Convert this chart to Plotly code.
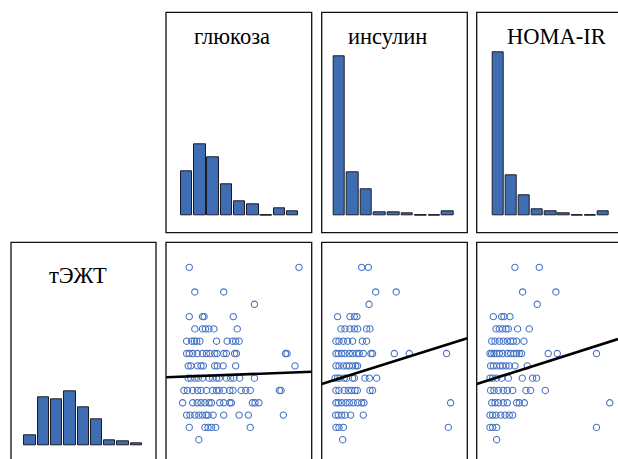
import plotly.graph_objects as go

# ---------------------------------------------------------------- data
# histogram counts (9 bins per variable)
tegt_counts = [8, 36, 35, 41, 29, 20, 4, 3, 2]
glucose_counts = [33, 53, 43, 23, 10, 8, 0, 5, 3]
insulin_counts = [119, 32, 19, 2, 2, 1, 0, 0, 3]
homa_counts = [122, 30, 15, 4, 3, 1, 0, 0, 3]

# bin start and bin width of each histogram
tegt_bins = (2.0, 7.0 / 9.0)
glucose_bins = (3.5, 0.5)
insulin_bins = (0.0, 10.0)
homa_bins = (0.5, 2.0)

# scatter points: тЭЖТ level -> values of the second variable
glucose_rows = {
    9.0: [3.85, 7.99],
    8.0: [4.06, 5.15],
    7.5: [6.31],
    7.0: [3.85, 4.35, 4.41, 5.51],
    6.5: [4.06, 4.35, 4.46, 4.59, 4.78, 5.66],
    6.0: [3.75, 3.94, 4.04, 4.13, 4.25, 4.88, 5.28, 5.48, 5.60, 5.73],
    5.5: [3.75, 3.85, 3.98, 4.15, 4.35, 4.50, 4.63, 4.81, 4.90, 5.15, 5.25, 5.56, 5.63, 7.48, 7.54],
    5.0: [3.81, 3.91, 4.16, 4.29, 4.38, 4.81, 4.91, 5.13, 5.60, 7.84],
    4.5: [3.81, 3.91, 4.06, 4.19, 4.35, 4.60, 4.73, 4.88, 4.98, 5.25, 5.41, 5.53, 5.75, 6.31],
    4.0: [3.65, 3.78, 3.98, 4.16, 4.29, 4.50, 4.73, 4.88, 4.98, 5.15, 5.38, 5.50, 5.81, 5.98, 6.15, 7.25, 7.31],
    3.5: [3.60, 3.98, 4.15, 4.29, 4.44, 4.60, 4.69, 5.00, 5.15, 5.38, 5.44, 6.23, 6.33, 6.48],
    3.0: [3.75, 3.88, 4.06, 4.21, 4.35, 4.48, 4.56, 4.75, 5.15, 5.73, 6.08, 7.40],
    2.5: [3.85, 4.44, 4.56, 4.69, 4.85, 6.15],
    2.0: [4.21],
}
insulin_rows = {
    9.0: [21.6, 26.5],
    8.0: [31.9, 47.0],
    7.5: [27.0],
    7.0: [3.9, 13.0, 16.2, 18.1],
    6.5: [6.4, 9.3, 13.0, 16.2, 18.6, 25.2, 27.7],
    6.0: [2.7, 4.9, 8.1, 11.3, 14.9, 22.1, 25.2],
    5.5: [2.7, 4.4, 6.9, 9.3, 12.5, 14.9, 17.9, 19.8, 22.8, 28.4, 29.6, 45.6, 56.6, 84.0],
    5.0: [2.7, 4.9, 8.1, 10.5, 12.5, 14.9, 17.2, 18.6],
    4.5: [2.0, 3.9, 5.6, 8.8, 10.5, 14.9, 16.2, 24.0, 27.2, 32.6],
    4.0: [2.7, 4.9, 8.8, 11.8, 14.2, 16.7, 18.4, 27.7, 29.6],
    3.5: [2.7, 4.4, 6.9, 10.0, 12.5, 15.4, 18.6, 21.6, 23.3, 87.0],
    3.0: [2.5, 4.4, 6.9, 9.3, 13.5, 22.8],
    2.5: [2.7, 4.9, 8.1, 85.3],
    2.0: [7.6],
}
homa_rows = {
    9.0: [4.09, 7.78],
    8.0: [5.25, 10.30],
    7.5: [7.47],
    7.0: [0.81, 2.07, 2.42, 3.33],
    6.5: [1.21, 1.72, 2.22, 2.73, 3.08, 4.49, 6.26],
    6.0: [0.56, 1.06, 1.72, 2.32, 2.93, 3.43, 3.84, 4.34, 5.45],
    5.5: [0.30, 0.56, 0.91, 1.31, 1.72, 2.22, 2.93, 3.43, 3.94, 4.34, 4.75, 5.10, 9.14, 10.51, 16.46],
    5.0: [0.40, 0.81, 1.31, 1.82, 2.22, 2.73, 3.23, 4.09, 5.96],
    4.5: [0.30, 0.71, 1.31, 2.07, 3.08, 5.20, 6.77, 7.37],
    4.0: [0.40, 0.91, 1.57, 2.32, 2.93, 3.74, 5.76, 6.46, 8.69],
    3.5: [0.56, 1.06, 1.57, 2.32, 2.93, 4.34, 4.75, 5.51, 18.48],
    3.0: [0.30, 0.71, 1.21, 1.92, 2.58, 3.23, 3.74],
    2.5: [0.30, 0.71, 1.31, 16.46],
    2.0: [1.31],
}

# linear fits тЭЖТ = intercept + slope * x
glucose_fit = (4.411, 0.0414)
insulin_fit = (4.397, 0.01735)
homa_fit = (4.408, 0.0852)

labels = {"tegt": "тЭЖТ", "glucose": "глюкоза", "insulin": "инсулин", "homa": "HOMA-IR"}

# ---------------------------------------------------------------- geometry
W, H = 618, 459
COLS = {"tegt": (11.0, 156.0), "glucose": (166.0, 311.7),
        "insulin": (321.7, 467.3), "homa": (476.7, 622.7)}
ROW_TOP = (12.3, 232.7)
ROW_BOTTOM = (242.3, 462.7)
# pixel of the first bin edge and pixel width of one bin
XCAL = {"tegt": (23.35, 13.3), "glucose": (180.0, 13.25),
        "insulin": (332.3, 13.6), "homa": (491.3, 13.18)}
BINS = {"tegt": tegt_bins, "glucose": glucose_bins,
        "insulin": insulin_bins, "homa": homa_bins}
BAR_FRAC = 0.855
HIST_BASE = {"top": 215.0, "bottom": 445.7}
PX_PER_COUNT = 1.333
TEGT_REF = (2.0, 439.7, 24.62)  # value, pixel, pixels per unit

BAR_FILL = "#3e6db4"
BAR_EDGE = "#1c1c24"
DOT = "#4673c4"


def x_axis(col):
    x0, x1 = COLS[col]
    e0, pitch = XCAL[col]
    b0, w = BINS[col]
    a, b = max(x0, 0), min(x1, W)
    f = lambda px: b0 + (px - e0) / pitch * w
    return dict(domain=[a / W, b / W], range=[f(a), f(b)])


def y_axis(row, f):
    a, b = max(row[0], 0), min(row[1], H)
    return dict(domain=[1 - b / H, 1 - a / H], range=[f(b), f(a)])


def hist_y(base):
    return lambda py: (base - py) / PX_PER_COUNT


def tegt_y(py):
    v0, p0, s = TEGT_REF
    return v0 + (p0 - py) / s


fig = go.Figure()
layout_axes = {}
hidden = dict(visible=False, showgrid=False, zeroline=False, fixedrange=True)

hist_panels = [
    ("tegt", tegt_counts, ROW_BOTTOM, "bottom", 1),
    ("glucose", glucose_counts, ROW_TOP, "top", 2),
    ("insulin", insulin_counts, ROW_TOP, "top", 3),
    ("homa", homa_counts, ROW_TOP, "top", 4),
]
for col, counts, row, base_key, n in hist_panels:
    sfx = "" if n == 1 else str(n)
    b0, w = BINS[col]
    centers = [b0 + w * (k + 0.5) for k in range(len(counts))]
    bw = w * BAR_FRAC
    fig.add_trace(go.Bar(
        x=centers, y=counts, width=bw,
        marker=dict(color=BAR_FILL, line=dict(color=BAR_EDGE, width=1)),
        xaxis="x" + sfx, yaxis="y" + sfx, hoverinfo="skip", showlegend=False))
    # empty bins keep their outline on the baseline
    zx, zy = [], []
    for c, cnt in zip(centers, counts):
        if cnt == 0:
            zx += [c - bw / 2, c + bw / 2, None]
            zy += [0, 0, None]
    if zx:
        fig.add_trace(go.Scatter(
            x=zx, y=zy, mode="lines", line=dict(color=BAR_EDGE, width=1),
            xaxis="x" + sfx, yaxis="y" + sfx, hoverinfo="skip", showlegend=False))
    layout_axes["xaxis" + sfx] = dict(x_axis(col), anchor="y" + sfx, **hidden)
    layout_axes["yaxis" + sfx] = dict(y_axis(row, hist_y(HIST_BASE[base_key])),
                                      anchor="x" + sfx, **hidden)

scatter_panels = [
    ("glucose", glucose_rows, glucose_fit, 5),
    ("insulin", insulin_rows, insulin_fit, 6),
    ("homa", homa_rows, homa_fit, 7),
]
for col, rows, fit, n in scatter_panels:
    sfx = str(n)
    xs, ys = [], []
    for level, vals in rows.items():
        xs += vals
        ys += [level] * len(vals)
    xa = x_axis(col)
    fig.add_trace(go.Scatter(
        x=xs, y=ys, mode="markers",
        marker=dict(symbol="circle-open", size=6.3, color=DOT, line=dict(width=1.1)),
        xaxis="x" + sfx, yaxis="y" + sfx, hoverinfo="skip", showlegend=False))
    a, slope = fit
    lx = list(xa["range"])
    fig.add_trace(go.Scatter(
        x=lx, y=[a + slope * v for v in lx], mode="lines",
        line=dict(color="black", width=2.6),
        xaxis="x" + sfx, yaxis="y" + sfx, hoverinfo="skip", showlegend=False))
    layout_axes["xaxis" + sfx] = dict(xa, anchor="y" + sfx, **hidden)
    layout_axes["yaxis" + sfx] = dict(y_axis(ROW_BOTTOM, tegt_y), anchor="x" + sfx, **hidden)

# panel frames
shapes = []
frames = [("tegt", ROW_BOTTOM), ("glucose", ROW_TOP), ("insulin", ROW_TOP), ("homa", ROW_TOP),
          ("glucose", ROW_BOTTOM), ("insulin", ROW_BOTTOM), ("homa", ROW_BOTTOM)]
for col, row in frames:
    x0, x1 = COLS[col]
    shapes.append(dict(type="rect", xref="paper", yref="paper",
                       x0=x0 / W, x1=x1 / W, y0=1 - row[1] / H, y1=1 - row[0] / H,
                       line=dict(color="#111111", width=1.3), layer="above"))

# variable names on the diagonal
title_pos = {"glucose": (231.7, 37.0), "insulin": (387.8, 37.0),
             "homa": (556.3, 37.0), "tegt": (78.0, 275.3)}
annotations = []
for key, (px, py) in title_pos.items():
    annotations.append(dict(text=labels[key], x=px / W, y=1 - py / H,
                            xref="paper", yref="paper", xanchor="center", yanchor="middle",
                            showarrow=False,
                            font=dict(family="Liberation Serif", size=22.5, color="black")))

fig.update_layout(
    width=W, height=H, autosize=False,
    margin=dict(l=0, r=0, t=0, b=0, pad=0),
    paper_bgcolor="white", plot_bgcolor="white",
    bargap=0, shapes=shapes, annotations=annotations, showlegend=False,
    **layout_axes,
)

fig.write_html("out.html", config={"displayModeBar": False})
